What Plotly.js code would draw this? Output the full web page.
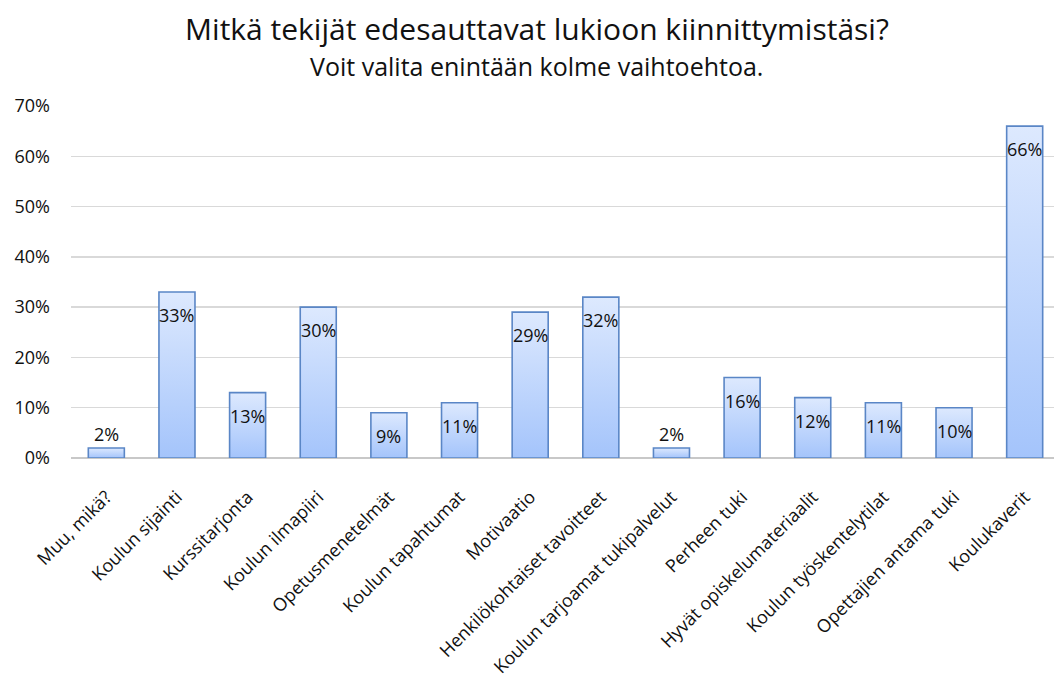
<!DOCTYPE html>
<html>
<head>
<meta charset="utf-8">
<script src="https://cdn.plot.ly/plotly-3.0.1.min.js"></script>
<style>
html,body{margin:0;padding:0;background:#fff;overflow:hidden;}
#chart{width:1060px;height:677px;}
</style>
</head>
<body>
<div id="chart"></div>
<script>
var titleText = "Mitkä tekijät edesauttavat lukioon kiinnittymistäsi?";
var subtitleText = "Voit valita enintään kolme vaihtoehtoa.";
var categories = ["Muu, mikä?", "Koulun sijainti", "Kurssitarjonta", "Koulun ilmapiiri",
  "Opetusmenetelmät", "Koulun tapahtumat", "Motivaatio", "Henkilökohtaiset tavoitteet",
  "Koulun tarjoamat tukipalvelut", "Perheen tuki", "Hyvät opiskelumateriaalit",
  "Koulun työskentelytilat", "Opettajien antama tuki", "Koulukaverit"];
var values = [0.02, 0.33, 0.13, 0.30, 0.09, 0.11, 0.29, 0.32, 0.02, 0.16, 0.12, 0.11, 0.10, 0.66];
var yTickVals = [0, 0.1, 0.2, 0.3, 0.4, 0.5, 0.6, 0.7];

var FONT = "Open Sans, sans-serif";

var trace = {
  type: "bar",
  x: categories,
  y: values,
  width: 0.51,
  marker: {color: "#c2d7fd", line: {color: "#5a86c6", width: 1.6}},
  hoverinfo: "x+y"
};

var annotations = values.map(function(v, i){
  var small = v < 0.05;
  return {
    x: categories[i], y: v, xref: "x", yref: "y",
    text: Math.round(v*100) + "%",
    showarrow: false,
    yanchor: small ? "bottom" : "middle",
    yshift: small ? 0 : -23,
    font: {family: FONT, size: 18, color: "#111"}
  };
});
annotations.push({
  xref: "paper", yref: "paper", x: 0.471, y: 1.114,
  xanchor: "center", yanchor: "middle", showarrow: false,
  text: subtitleText, font: {family: FONT, size: 25, color: "#111"}
});

var layout = {
  width: 1060, height: 677,
  margin: {l: 71, r: 0, t: 106, b: 219},
  paper_bgcolor: "#fff", plot_bgcolor: "#fff",
  title: {
    text: titleText, xref: "container", yref: "container",
    x: 537/1060, y: 1 - 29/677, xanchor: "center", yanchor: "middle",
    font: {family: FONT, size: 30, color: "#111"}
  },
  showlegend: false,
  bargap: 0.49,
  xaxis: {
    type: "category",
    range: [-0.5, 13.5],
    tickangle: -45,
    ticks: "", showgrid: false, showline: false, zeroline: false,
    ticklabelstandoff: 24,
    tickfont: {family: FONT, size: 18, color: "#111"},
    automargin: false
  },
  yaxis: {
    range: [0, 0.7],
    tickvals: yTickVals, tickformat: ".0%",
    showgrid: true, gridcolor: "#d9d9d9", gridwidth: 1.3,
    zeroline: true, zerolinecolor: "#c8c8c8", zerolinewidth: 1.5,
    showline: false, ticks: "",
    ticklabelstandoff: 20,
    tickfont: {family: FONT, size: 18, color: "#111"},
    automargin: false
  },
  annotations: annotations
};

Plotly.newPlot("chart", [trace], layout, {displayModeBar: false, staticPlot: true}).then(function(gd){
  var svg = gd.querySelector("svg.main-svg");
  var ns = "http://www.w3.org/2000/svg";
  var defs = svg.querySelector("defs") || svg.insertBefore(document.createElementNS(ns, "defs"), svg.firstChild);
  var lg = document.createElementNS(ns, "linearGradient");
  lg.setAttribute("id", "barGrad");
  lg.setAttribute("x1", "0"); lg.setAttribute("y1", "0");
  lg.setAttribute("x2", "0"); lg.setAttribute("y2", "1");
  [["0", "#dde9fe"], ["1", "#a4c4fb"]].forEach(function(s){
    var st = document.createElementNS(ns, "stop");
    st.setAttribute("offset", s[0]);
    st.setAttribute("stop-color", s[1]);
    lg.appendChild(st);
  });
  defs.appendChild(lg);
  gd.querySelectorAll(".bars .point path").forEach(function(p){
    p.style.fill = "url(#barGrad)";
    p.style.fillOpacity = 1;
  });
});
</script>
</body>
</html>
